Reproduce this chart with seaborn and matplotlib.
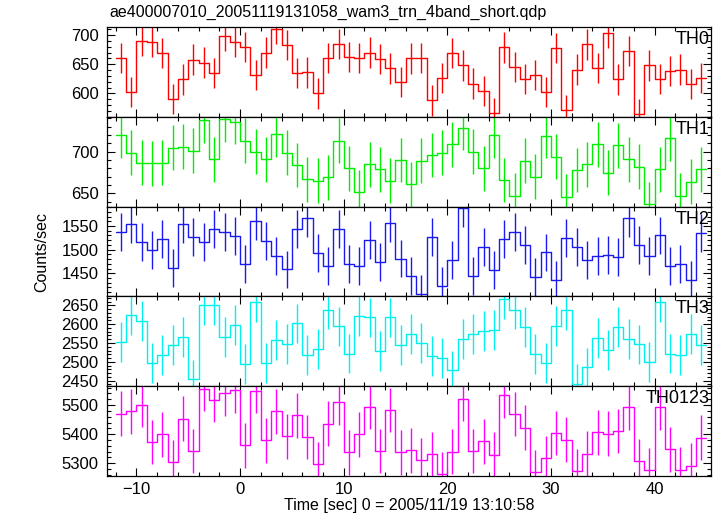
import numpy as np
import pandas as pd
import matplotlib
matplotlib.use("Agg")
import matplotlib.pyplot as plt
import seaborn as sns
from matplotlib.ticker import MultipleLocator

# 1 s bins, centres from -11.5 to 44.5
time_bins = np.arange(-11.5, 45.0, 1.0)
bin_width = 1.0

th0 = [661, 603, 690, 689, 669, 591, 624, 658, 653, 635, 699, 688, 680, 632,
       670, 710, 683, 635, 636, 600, 661, 685, 663, 661, 670, 659, 643, 620,
       660, 661, 588, 627, 669, 648, 617, 604, 566, 679, 645, 625, 632, 602,
       678, 571, 641, 684, 644, 704, 624, 673, 565, 648, 625, 639, 641, 616, 627]
th1 = [720, 699, 687, 686, 687, 705, 706, 701, 738, 691, 739, 736, 713, 700,
       691, 721, 699, 684, 667, 665, 669, 713, 680, 651, 685, 679, 665, 690,
       661, 689, 696, 699, 709, 729, 700, 680, 720, 666, 647, 689, 670, 719,
       694, 646, 678, 685, 709, 675, 708, 691, 682, 637, 679, 716, 647, 664, 679]
th2 = [1537, 1554, 1516, 1500, 1522, 1461, 1554, 1527, 1516, 1543, 1537, 1529,
       1470, 1561, 1518, 1487, 1458, 1544, 1566, 1493, 1465, 1544, 1469, 1465,
       1521, 1473, 1556, 1481, 1445, 1407, 1526, 1424, 1478, 1587, 1445, 1506,
       1457, 1523, 1537, 1509, 1442, 1494, 1435, 1525, 1506, 1478, 1486, 1488,
       1485, 1566, 1510, 1487, 1530, 1466, 1470, 1435, 1535]
th3 = [2553, 2624, 2608, 2496, 2518, 2544, 2567, 2453, 2650, 2650, 2565, 2597,
       2494, 2660, 2496, 2557, 2548, 2602, 2517, 2533, 2639, 2594, 2522, 2621,
       2618, 2528, 2618, 2545, 2575, 2550, 2516, 2509, 2477, 2560, 2575, 2582,
       2584, 2668, 2639, 2593, 2521, 2496, 2595, 2638, 2440, 2485, 2564, 2532,
       2592, 2560, 2546, 2500, 2659, 2522, 2517, 2573, 2544]
th0123 = [5470, 5479, 5500, 5373, 5399, 5304, 5453, 5342, 5557, 5519, 5540, 5551,
          5362, 5550, 5379, 5479, 5393, 5465, 5390, 5297, 5436, 5510, 5338, 5399,
          5494, 5342, 5483, 5338, 5345, 5311, 5331, 5263, 5340, 5522, 5342, 5375,
          5329, 5534, 5469, 5422, 5269, 5317, 5404, 5381, 5272, 5333, 5406, 5402,
          5411, 5492, 5308, 5276, 5492, 5348, 5278, 5292, 5388]

# typical 1-sigma error per band
errors = [26, 27, 40, 53, 77]

band_names = ["TH0", "TH1", "TH2", "TH3", "TH0123"]
band_values = [th0, th1, th2, th3, th0123]
band_colors = ["#ff0000", "#00ee00", "#1a1aee", "#00f0f0", "#ff00ff"]
y_limits = [(560, 714), (634, 742), (1401, 1591), (2435, 2674), (5256, 5565)]
y_major = [50, 50, 50, 50, 100]
y_minor = [10, 10, 10, 10, 20]

sns.set_style("ticks")
plt.rcParams["font.family"] = ["Liberation Sans", "DejaVu Sans"]
plt.rcParams.update({"text.color": "black", "axes.labelcolor": "black",
                     "xtick.color": "black", "ytick.color": "black"})

fig, axes = plt.subplots(5, 1, sharex=True, figsize=(7.17, 5.16), dpi=100,
                         gridspec_kw={"hspace": 0})
fig.subplots_adjust(left=0.149, right=0.9916, top=0.9477, bottom=0.0775)

for ax, name, vals, err, col, ylim, maj, mnr in zip(
        axes, band_names, band_values, errors, band_colors, y_limits, y_major, y_minor):
    df = pd.DataFrame({"time": time_bins, "rate": vals})
    # step outline drawn from bin left edges, closing at the last bin's right edge
    steps = pd.concat([
        pd.DataFrame({"edge": df["time"] - bin_width / 2, "rate": df["rate"]}),
        pd.DataFrame({"edge": [df["time"].iloc[-1] + bin_width / 2],
                      "rate": [df["rate"].iloc[-1]]}),
    ], ignore_index=True)
    sns.lineplot(data=steps, x="edge", y="rate", ax=ax, color=col, lw=1.0,
                 drawstyle="steps-post", estimator=None, sort=False)
    ax.errorbar(df["time"], df["rate"], yerr=err, fmt="none", ecolor=col,
                elinewidth=1.0, capsize=0)
    ax.set_ylim(*ylim)
    ax.yaxis.set_major_locator(MultipleLocator(maj))
    ax.yaxis.set_minor_locator(MultipleLocator(mnr))
    ax.set_ylabel("")
    ax.set_xlabel("")
    ax.text(0.997, 0.955, name, transform=ax.transAxes, ha="right", va="top",
            fontsize=13, color="black")
    ax.tick_params(which="both", direction="in", top=True, right=True,
                   labelsize=12, width=0.8, colors="black")
    ax.tick_params(which="major", length=6, pad=6)
    ax.tick_params(which="minor", length=3)
    for sp in ax.spines.values():
        sp.set_linewidth(0.9)
        sp.set_color("black")

axes[-1].set_xlim(-12.86, 45.45)
axes[-1].xaxis.set_major_locator(MultipleLocator(10))
axes[-1].xaxis.set_minor_locator(MultipleLocator(2))
axes[-1].tick_params(axis="x", which="major", pad=4)
axes[-1].set_xlabel("Time [sec] 0 = 2005/11/19 13:10:58", fontsize=11.5,
                    labelpad=1, color="black")

fig.text(0.058, 0.5125, "Counts/sec", rotation=90, ha="center", va="center",
         fontsize=11.5, color="black")
fig.text(0.153, 0.962, "ae400007010_20051119131058_wam3_trn_4band_short.qdp",
         ha="left", va="bottom", fontsize=11.5, color="black")

fig.savefig("out.png", dpi=100)
